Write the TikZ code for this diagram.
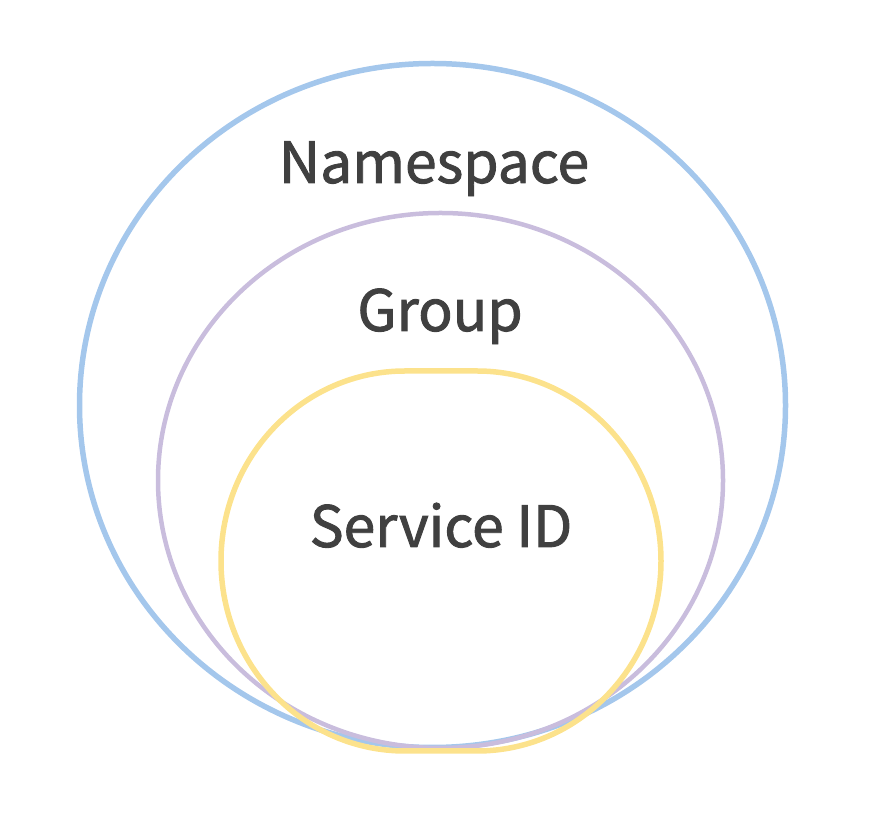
\documentclass[tikz,border=0pt]{standalone}
\usepackage{fontspec}
\usepackage{xcolor}
\newfontfamily\labelfont[RawFeature={embolden=1.6}]{Noto Sans CJK SC}
\definecolor{nsblue}{RGB}{164,199,236}
\definecolor{grppurple}{RGB}{201,189,221}
\definecolor{svcyellow}{RGB}{252,226,140}
\definecolor{txtgray}{RGB}{64,64,64}
\usetikzlibrary{positioning}

\begin{document}
\begin{tikzpicture}[
      x=1pt, y=1pt,
      ring/.style={line width=5.5pt},
      lbl/.style={font=\labelfont\fontsize{57}{68}\selectfont, text=txtgray, inner sep=0pt, anchor=base},
    ]
    \useasboundingbox (0,0) rectangle (869,813);

    % nested scopes
    \draw[ring, nsblue] (432.5,407.5) ellipse [x radius=353, y radius=342];
    \draw[ring, grppurple, line width=4.5pt] (440.5,332.5) ellipse [x radius=282.5, y radius=267.5];
    \draw[ring, svcyellow] (405,442) -- (477,442)
      arc[start angle=90, end angle=0, x radius=184, y radius=190]
      arc[start angle=0, end angle=-90, x radius=184, y radius=190]
      -- (405,62)
      arc[start angle=270, end angle=180, x radius=184, y radius=190]
      arc[start angle=180, end angle=90, x radius=184, y radius=190]
      -- cycle;

    \node[lbl] (ns) at (434,630) {Namespace};
    \node[lbl] (grp) at (440,482) {Group};
    \node[lbl] (svc) at (441,266) {Service ID};
  \end{tikzpicture}
\end{document}
